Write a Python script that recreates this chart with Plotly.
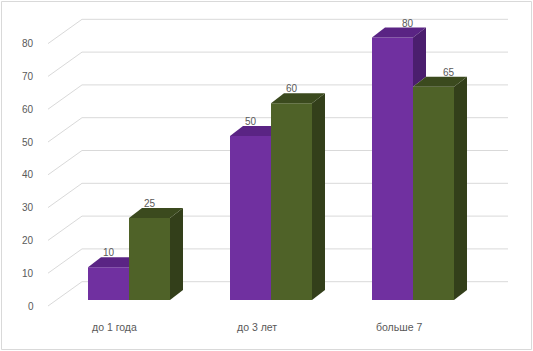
import plotly.graph_objects as go

# ---- data ----
categories = ["до 1 года", "до 3 лет", "больше 7"]
series_a = [10, 50, 80]   # purple
series_b = [25, 60, 65]   # green
tick_values = [0, 10, 20, 30, 40, 50, 60, 70, 80]

# ---- style / geometry ----
W, H = 533, 351
PX_X = 142.0          # px per category unit
X0_PX = 129.0         # px of category 0 centre
PX_Y = 3.28           # px per value unit
Y0_PX = 300.0         # px of value 0 (bar plane)

bar_w = 41 / PX_X
dx = 13 / PX_X
dy = 10 / PX_Y

back_dy = 18.3 / PX_Y
back_x0 = (82 - X0_PX) / PX_X
back_x1 = (508 - X0_PX) / PX_X
front_x = (48 - X0_PX) / PX_X
front_dy = -1.83

col_a = "#7030A0"; col_a_top = "#5A2484"; col_a_side = "#4B1E6E"
col_b = "#4F6228"; col_b_top = "#3B4A1E"; col_b_side = "#333F1A"
grid_col = "#D9D9D9"
text_col = "#595959"
font_family = "Liberation Sans, Arial, sans-serif"

xs = list(range(len(categories)))

fig = go.Figure()

# front faces
fig.add_trace(go.Bar(x=xs, y=series_a, width=bar_w, offset=-bar_w,
                     marker=dict(color=col_a, line=dict(width=0)), hoverinfo="skip"))
fig.add_trace(go.Bar(x=xs, y=series_b, width=bar_w, offset=0,
                     marker=dict(color=col_b, line=dict(width=0)), hoverinfo="skip"))


def poly(pts, color):
    px = [p[0] for p in pts] + [pts[0][0]]
    py = [p[1] for p in pts] + [pts[0][1]]
    fig.add_trace(go.Scatter(x=px, y=py, mode="lines", fill="toself", fillcolor=color,
                             line=dict(width=0, color=color), hoverinfo="skip"))


for i, (a, b) in zip(xs, zip(series_a, series_b)):
    xl, xm, xr = i - bar_w, i, i + bar_w
    # purple top
    if b >= a:
        poly([(xl, a), (xm, a), (xm, a + dy), (xl + dx, a + dy)], col_a_top)
    else:
        poly([(xl, a), (xm, a), (xm + dx, a + dy), (xl + dx, a + dy)], col_a_top)
        # visible part of purple side above the green bar
        poly([(xm, b), (xm, a), (xm + dx, a + dy), (xm + dx, b + dy)], col_a_side)
    # green side and top
    poly([(xr, 0), (xr, b), (xr + dx, b + dy), (xr + dx, dy)], col_b_side)
    poly([(xm, b), (xr, b), (xr + dx, b + dy), (xm + dx, b + dy)], col_b_top)

shapes = []
for v in tick_values:
    # back wall gridline
    shapes.append(dict(type="line", xref="x", yref="y", x0=back_x0, x1=back_x1,
                       y0=v + back_dy, y1=v + back_dy, layer="below",
                       line=dict(color=grid_col, width=1)))
    # side wall diagonal
    shapes.append(dict(type="line", xref="x", yref="y", x0=front_x, x1=back_x0,
                       y0=v + front_dy, y1=v + back_dy, layer="below",
                       line=dict(color=grid_col, width=1)))
# outer border
shapes.append(dict(type="rect", xref="paper", yref="paper",
                   x0=1.5 / W, x1=531.5 / W, y0=1 - 349.5 / H, y1=1 - 1.5 / H,
                   line=dict(color=grid_col, width=1), fillcolor="rgba(0,0,0,0)"))

annotations = []
fnt = dict(family=font_family, size=10, color=text_col)
for v in tick_values:
    annotations.append(dict(x=front_x, y=v + front_dy, xref="x", yref="y", text=str(v),
                            showarrow=False, xanchor="right", yanchor="middle",
                            xshift=-12, font=fnt))
cat_fnt = dict(family=font_family, size=10.5, color=text_col)
for i, c in zip(xs, categories):
    annotations.append(dict(x=i - 0.1, y=(Y0_PX - 327) / PX_Y, xref="x", yref="y", text=c,
                            showarrow=False, xanchor="center", yanchor="middle", font=cat_fnt))
label_shift = [0, 0, 15]
for i, (a, b) in zip(xs, zip(series_a, series_b)):
    annotations.append(dict(x=i - bar_w / 2, y=a + dy, xref="x", yref="y", text=str(a),
                            showarrow=False, xanchor="center", yanchor="bottom",
                            xshift=label_shift[i], yshift=-3, font=fnt))
    annotations.append(dict(x=i + bar_w / 2, y=b + dy, xref="x", yref="y", text=str(b),
                            showarrow=False, xanchor="center", yanchor="bottom",
                            xshift=label_shift[i], yshift=-3, font=fnt))

fig.update_layout(
    width=W, height=H,
    margin=dict(l=0, r=0, t=0, b=0),
    paper_bgcolor="white", plot_bgcolor="white",
    showlegend=False, barmode="overlay",
    xaxis=dict(range=[-X0_PX / PX_X, (W - X0_PX) / PX_X], visible=False, fixedrange=True),
    yaxis=dict(range=[(Y0_PX - H) / PX_Y, Y0_PX / PX_Y], visible=False, fixedrange=True),
    shapes=shapes, annotations=annotations,
)

fig.write_html("out.html")
